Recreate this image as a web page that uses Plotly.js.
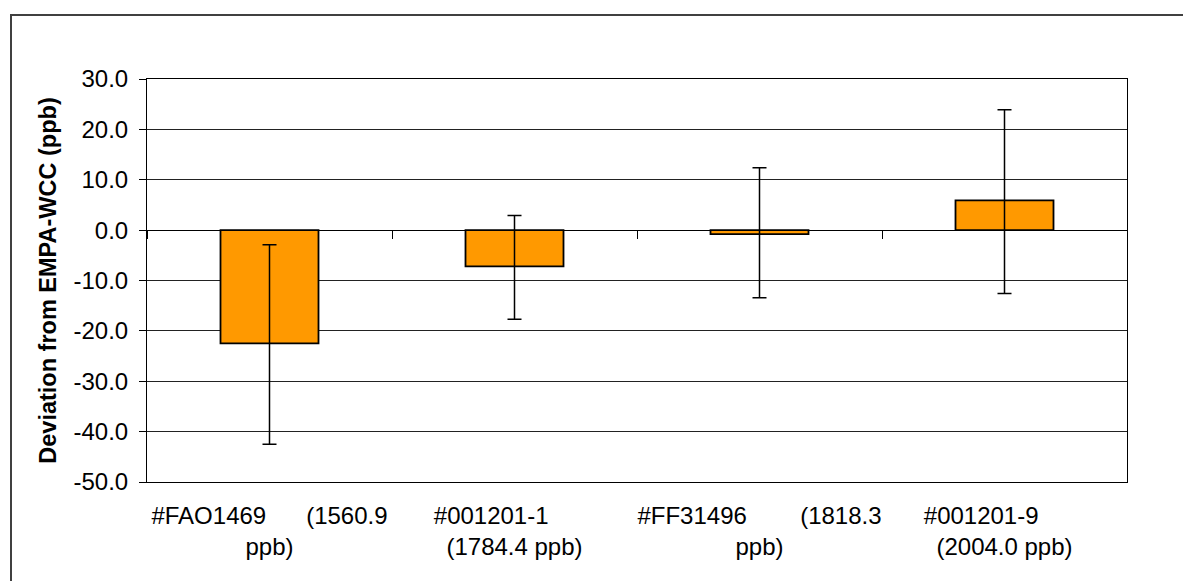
<!DOCTYPE html>
<html>
<head>
<meta charset="utf-8">
<script src="https://cdn.plot.ly/plotly-3.0.1.min.js"></script>
<style>
  html, body { margin: 0; padding: 0; background: #fff; overflow: hidden; }
  #chart {
    position: absolute; left: 10px; top: 14px;
    width: 1173px; height: 567px;
    border-left: 2px solid #404040; border-top: 2px solid #404040;
  }
</style>
</head>
<body>
<div id="chart"></div>
<script>
// Data
var NB = '\u00A0';
function sp(n) { return NB.repeat(n); }
var categories = [
  '#FAO1469' + sp(6) + '(1560.9<br>ppb)',
  '#001201-1' + sp(7) + '<br>(1784.4 ppb)',
  '#FF31496' + sp(8) + '(1818.3<br>ppb)',
  '#001201-9' + sp(7) + '<br>(2004.0 ppb)'
];
var deviation = [-22.5, -7.2, -0.8, 5.9];
var errPlus   = [19.6, 10.1, 13.2, 18.0];
var errMinus  = [20.0, 10.5, 12.6, 18.5];
var yTickVals = [-50, -40, -30, -20, -10, 0, 10, 20, 30];
var yTickText = ['-50.0', '-40.0', '-30.0', '-20.0', '-10.0', '0.0', '10.0', '20.0', '30.0'];

var font = 'Arial, "Liberation Sans", Helvetica, sans-serif';

var bars = {
  type: 'bar',
  x: categories,
  y: deviation,
  marker: { color: '#FF9900', line: { color: '#000000', width: 1.8 } },
  error_y: {
    type: 'data', symmetric: false,
    array: errPlus, arrayminus: errMinus,
    color: '#000000', thickness: 1.5, width: 7
  },
  hoverinfo: 'skip',
  showlegend: false
};

// invisible trace to carry the category tick marks on the zero line
var tickCarrier = {
  type: 'scatter', mode: 'none',
  x: categories, y: deviation,
  xaxis: 'x2', yaxis: 'y',
  hoverinfo: 'skip', showlegend: false
};

var layout = {
  width: 1171, height: 565,
  margin: { l: 135, r: 56, t: 63, b: 99, pad: 0 },
  paper_bgcolor: '#ffffff',
  plot_bgcolor: '#ffffff',
  font: { family: font, color: '#000000', size: 24 },
  bargap: 0.6,
  xaxis: {
    type: 'category',
    categoryorder: 'array', categoryarray: categories,
    range: [-0.5, 3.5],
    showgrid: false, zeroline: false,
    showline: true, linecolor: '#000000', linewidth: 1, mirror: true,
    ticks: '',
    tickangle: 0,
    tickfont: { family: font, size: 24, color: '#000000' },
    ticklabelstandoff: 12,
    fixedrange: true
  },
  xaxis2: {
    type: 'category',
    categoryorder: 'array', categoryarray: categories,
    range: [-0.5, 3.5],
    overlaying: 'x', anchor: 'free', position: 0.625, side: 'bottom',
    showgrid: false, zeroline: false, showline: false,
    showticklabels: false,
    ticks: 'outside', tickson: 'boundaries', ticklen: 8, tickwidth: 1, tickcolor: '#000000',
    fixedrange: true
  },
  yaxis: {
    range: [-50, 30],
    tickmode: 'array',
    tickvals: yTickVals,
    ticktext: yTickText,
    showgrid: true, gridcolor: '#222222', gridwidth: 1,
    zeroline: true, zerolinecolor: '#000000', zerolinewidth: 1,
    showline: true, linecolor: '#000000', linewidth: 1, mirror: true,
    ticks: 'outside', ticklen: 7, tickcolor: '#000000',
    tickfont: { family: font, size: 24, color: '#000000' },
    ticklabelstandoff: 6,
    title: {
      text: '<b>Deviation from EMPA-WCC (ppb)</b>',
      font: { family: font, size: 23.5, color: '#000000' },
      standoff: 10
    },
    fixedrange: true
  }
};

Plotly.newPlot('chart', [bars, tickCarrier], layout, { displayModeBar: false, staticPlot: true });
</script>
</body>
</html>
